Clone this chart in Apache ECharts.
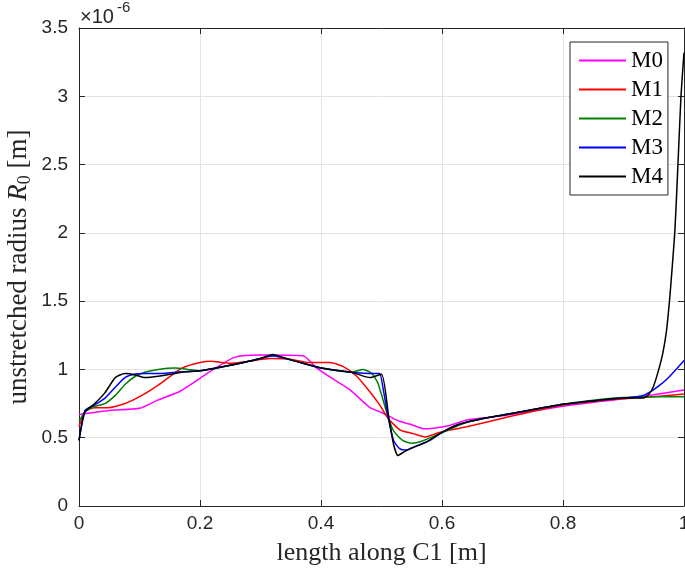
<!DOCTYPE html>
<html>
<head>
<meta charset="utf-8">
<script src="https://cdn.jsdelivr.net/npm/echarts@6/dist/echarts.min.js"></script>
<style>html,body{margin:0;padding:0;background:#fff}#c{width:685px;height:570px}</style>
</head>
<body>
<div id="c"></div>
<script>
// values in units of 1e-6 m
const seriesNames = ['M0', 'M1', 'M2', 'M3', 'M4'];
const xTicks = ['0', '0.2', '0.4', '0.6', '0.8', '1'];
const yTicks = ['0', '0.5', '1', '1.5', '2', '2.5', '3', '3.5'];

const m0X = [0, 0.05, 0.1, 0.13, 0.167, 0.2, 0.222, 0.258, 0.3, 0.37, 0.393, 0.42, 0.448, 0.481, 0.5, 0.514, 0.53, 0.55, 0.57, 0.613, 0.641, 0.7, 0.8, 0.86, 0.9, 0.95, 1.0];
const m0Y = [0.67, 0.70, 0.715, 0.775, 0.84, 0.935, 1.0, 1.09, 1.105, 1.10, 1.01, 0.93, 0.85, 0.72, 0.685, 0.654, 0.62, 0.595, 0.565, 0.59, 0.63, 0.66, 0.73, 0.765, 0.785, 0.815, 0.85];

const m1X = [0, 0.01, 0.026, 0.048, 0.076, 0.104, 0.131, 0.154, 0.17, 0.2, 0.217, 0.25, 0.28, 0.316, 0.35, 0.38, 0.415, 0.437, 0.459, 0.481, 0.497, 0.511, 0.531, 0.552, 0.572, 0.597, 0.641, 0.712, 0.8, 0.86, 0.9, 0.95, 1.0];
const m1Y = [0.58, 0.69, 0.72, 0.72, 0.75, 0.81, 0.885, 0.96, 1.01, 1.05, 1.06, 1.045, 1.06, 1.08, 1.075, 1.05, 1.05, 1.02, 0.95, 0.835, 0.74, 0.64, 0.556, 0.53, 0.505, 0.54, 0.58, 0.655, 0.74, 0.77, 0.785, 0.80, 0.82];

const m2X = [0, 0.01, 0.026, 0.043, 0.06, 0.076, 0.093, 0.109, 0.131, 0.159, 0.18, 0.2, 0.25, 0.3, 0.32, 0.35, 0.4, 0.45, 0.47, 0.484, 0.494, 0.511, 0.52, 0.535, 0.55, 0.564, 0.602, 0.63, 0.668, 0.712, 0.8, 0.86, 0.9, 0.95, 1.0];
const m2Y = [0.62, 0.69, 0.73, 0.75, 0.81, 0.89, 0.95, 0.98, 1.0, 1.01, 1.0, 0.99, 1.03, 1.08, 1.10, 1.07, 1.01, 0.98, 1.0, 0.97, 0.9, 0.65, 0.55, 0.48, 0.46, 0.47, 0.54, 0.595, 0.64, 0.675, 0.745, 0.78, 0.795, 0.80, 0.80];

const m3X = [0, 0.01, 0.026, 0.043, 0.06, 0.076, 0.093, 0.11, 0.13, 0.16, 0.2, 0.25, 0.3, 0.32, 0.35, 0.4, 0.45, 0.489, 0.497, 0.503, 0.511, 0.52, 0.53, 0.542, 0.558, 0.58, 0.602, 0.63, 0.668, 0.712, 0.8, 0.86, 0.9, 0.93, 0.944, 0.96, 0.972, 0.985, 1.0];
const m3Y = [0.48, 0.70, 0.74, 0.79, 0.87, 0.94, 0.966, 0.97, 0.97, 0.98, 0.99, 1.03, 1.08, 1.10, 1.07, 1.01, 0.98, 0.97, 0.97, 0.85, 0.65, 0.48, 0.42, 0.41, 0.44, 0.48, 0.545, 0.60, 0.64, 0.675, 0.745, 0.775, 0.79, 0.805, 0.835, 0.885, 0.93, 0.99, 1.065];

const m4X = [0, 0.01, 0.026, 0.043, 0.06, 0.076, 0.093, 0.109, 0.131, 0.17, 0.2, 0.25, 0.3, 0.32, 0.35, 0.4, 0.45, 0.481, 0.5, 0.512, 0.52, 0.527, 0.535, 0.547, 0.575, 0.602, 0.63, 0.668, 0.712, 0.8, 0.86, 0.9, 0.932, 0.942, 0.949, 0.957, 0.965, 0.971, 0.976, 0.98, 0.985, 0.99, 0.995, 1.0];
const m4Y = [0.48, 0.69, 0.75, 0.83, 0.94, 0.97, 0.96, 0.94, 0.95, 0.98, 0.99, 1.03, 1.08, 1.11, 1.07, 1.01, 0.98, 0.94, 0.965, 0.65, 0.45, 0.37, 0.39, 0.42, 0.47, 0.545, 0.60, 0.64, 0.675, 0.745, 0.775, 0.79, 0.79, 0.82, 0.87, 0.98, 1.12, 1.28, 1.5, 1.72, 2.02, 2.5, 3.0, 3.32];

const colors = ['#ff00ff', '#ff0000', '#008000', '#0000ff', '#000000'];
const xsAll = [m0X, m1X, m2X, m3X, m4X];
const ysAll = [m0Y, m1Y, m2Y, m3Y, m4Y];

const chart = echarts.init(document.getElementById('c'), null, {renderer: 'canvas'});
const axisColor = '#262626';
const gridColor = '#e3e3e3';
const sans = 'Liberation Sans, Arial, sans-serif';
const serif = 'Liberation Serif, Times New Roman, serif';

function baseX(extra) {
  return Object.assign({
    type: 'value', min: 0, max: 1, interval: 0.2,
    axisLine: {show: true, onZero: false, lineStyle: {color: axisColor, width: 1}},
    axisTick: {show: true, inside: true, length: 6, lineStyle: {color: axisColor}},
    splitLine: {show: false}
  }, extra);
}
function baseY(extra) {
  return Object.assign({
    type: 'value', min: 0, max: 3.5, interval: 0.5,
    axisLine: {show: true, onZero: false, lineStyle: {color: axisColor, width: 1}},
    axisTick: {show: true, inside: true, length: 6, lineStyle: {color: axisColor}},
    splitLine: {show: false}
  }, extra);
}

const option = {
  animation: false,
  backgroundColor: '#fff',
  grid: {left: 79, right: 1, top: 28, bottom: 64, containLabel: false, outerBoundsMode: 'none'},
  xAxis: [
    baseX({
      position: 'bottom',
      splitLine: {show: true, lineStyle: {color: gridColor, width: 1}},
      axisLabel: {color: '#262626', fontSize: 19, fontFamily: sans, margin: 8,
        formatter: v => xTicks[Math.round(v / 0.2)]},
      name: 'length along C1 [m]', nameLocation: 'middle', nameGap: 34,
      nameTextStyle: {color: '#262626', fontSize: 26, fontFamily: serif}
    }),
    baseX({position: 'top', axisLabel: {show: false}})
  ],
  yAxis: [
    baseY({
      position: 'left',
      splitLine: {show: true, lineStyle: {color: gridColor, width: 1}},
      axisLabel: {color: '#262626', fontSize: 19, fontFamily: sans, margin: 11,
        formatter: v => yTicks[Math.round(v / 0.5)]}
    }),
    baseY({position: 'right', axisLabel: {show: false}})
  ],
  legend: {
    orient: 'vertical', left: 570, top: 42,
    icon: 'rect',
    itemWidth: 47, itemHeight: 2, itemGap: 6,
    padding: [7, 5, 7, 9],
    itemStyle: {borderWidth: 0},
    borderColor: axisColor, borderWidth: 1, backgroundColor: '#fff',
    textStyle: {fontSize: 23, fontFamily: serif, color: '#000'},
    data: seriesNames
  },
  graphic: [{
    type: 'text', left: 80, top: 0,
    style: {
      text: '{a|×10}{b|-6}',
      rich: {
        a: {fontSize: 20, fontFamily: sans, fill: '#262626', padding: [7, 0, 0, 0]},
        b: {fontSize: 15, fontFamily: sans, fill: '#262626', verticalAlign: 'top', padding: [0, 0, 9, 3]}
      }
    }
  }, {
    type: 'text', x: 19, y: 267, rotation: Math.PI / 2,
    style: {
      text: '{t|unstretched radius }{i|R}{s|0}{t| [m]}',
      align: 'center', verticalAlign: 'middle',
      rich: {
        t: {fontSize: 27, fontFamily: serif, fill: '#262626'},
        i: {fontSize: 27, fontFamily: serif, fontStyle: 'italic', fill: '#262626'},
        s: {fontSize: 18, fontFamily: serif, fill: '#262626', verticalAlign: 'bottom', padding: [12, 0, 0, 0]}
      }
    }
  }],
  series: seriesNames.map((n, k) => ({
    name: n, type: 'line', xAxisIndex: 0, yAxisIndex: 0,
    showSymbol: false, symbol: 'none',
    smooth: 0.2,
    data: xsAll[k].map((x, i) => [x, ysAll[k][i]]),
    lineStyle: {color: colors[k], width: 1.5},
    itemStyle: {color: colors[k]},
    z: 2 + k
  }))
};
chart.setOption(option);
</script>
</body>
</html>
